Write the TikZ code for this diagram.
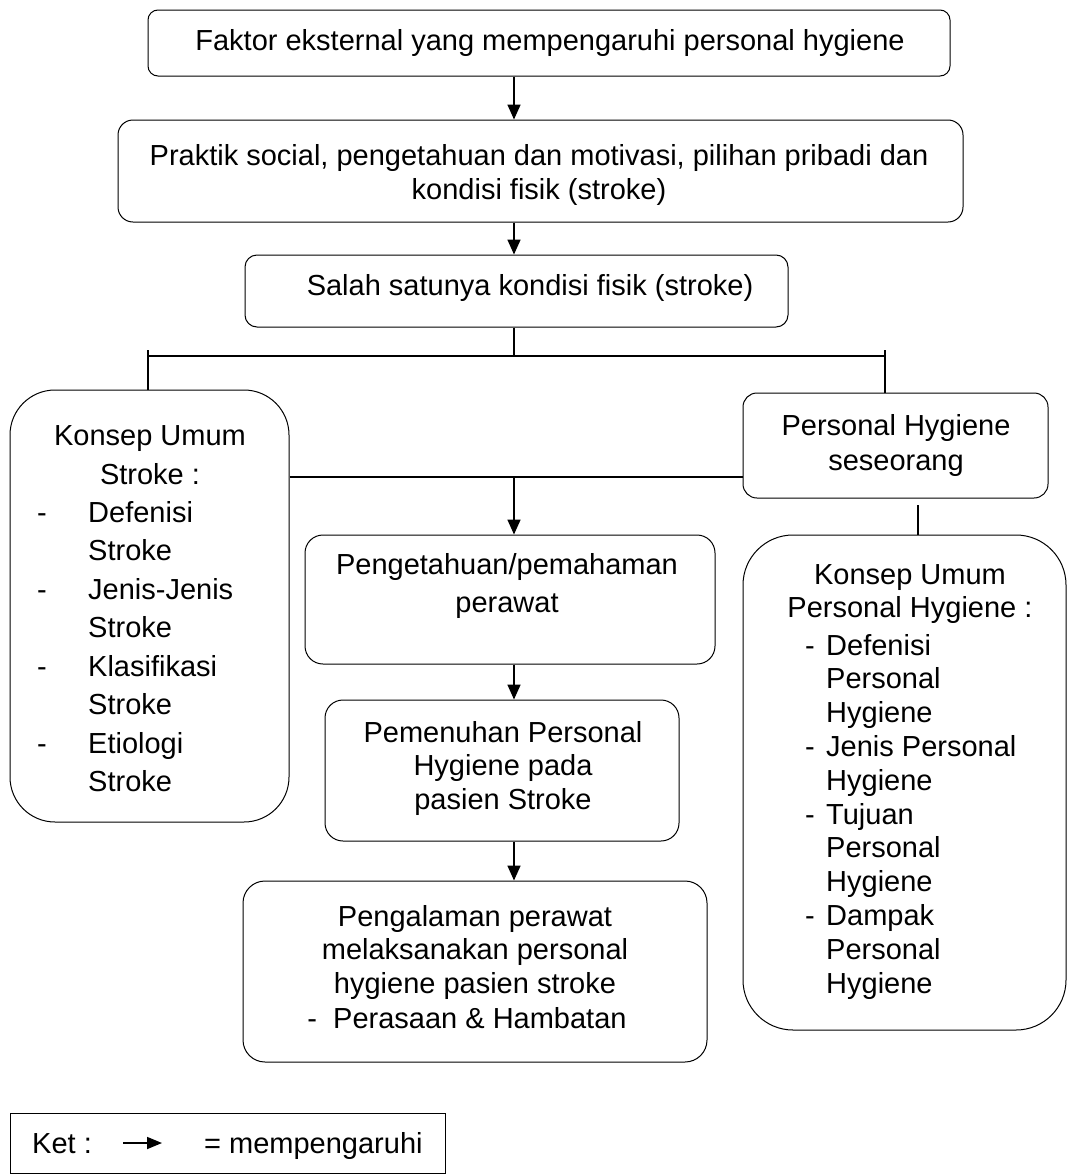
\documentclass[tikz,border=0pt]{standalone}
\usepackage{fontspec}
\setmainfont{Liberation Sans}
\usetikzlibrary{arrows.meta}
\begin{document}
\begin{tikzpicture}[x=1pt,y=-1pt,
  box/.style={draw=black, line width=1pt, rounded corners=#1, inner sep=0pt},
  box/.default=12,
  txt/.style={inner sep=0pt, align=center, font=\fontsize{29}{34}\selectfont},
  ltxt/.style={inner sep=0pt, anchor=base west, font=\fontsize{29}{34}\selectfont},
  dtxt/.style={inner sep=0pt, anchor=base, font=\fontsize{29}{34}\selectfont},
  conn/.style={line width=1.7pt},
  arr/.style={line width=1.7pt, -{Triangle[width=13pt,length=15pt]}},
]
\useasboundingbox (0,0) rectangle (1068,1175);

% boxes
\node[box=10, minimum width=802, minimum height=66] (b1) at (549,43) {};
\node[box=15, minimum width=845, minimum height=102] (b2) at (540.5,171) {};
\node[box=12, minimum width=543, minimum height=72] (b3) at (516.5,291) {};
\node[box=45, minimum width=279, minimum height=432] (lb) at (149.5,606) {};
\node[box=14, minimum width=305, minimum height=105] (pb) at (895.5,445.5) {};
\node[box=50, minimum width=323, minimum height=495] (rb) at (904.5,782.5) {};
\node[box=18, minimum width=410, minimum height=129] (m1) at (510,599.5) {};
\node[box=18, minimum width=354, minimum height=141] (m2) at (502,770.5) {};
\node[box=22, minimum width=464, minimum height=181] (m3) at (475,971.5) {};
\node[box=0, minimum width=435, minimum height=60] (lg) at (227.5,1143) {};

% texts
\node[txt] (t1) at (550,43) {Faktor eksternal yang mempengaruhi personal hygiene};
\node[txt] (t2) at (539,175) {Praktik social, pengetahuan dan motivasi, pilihan pribadi dan\\kondisi fisik (stroke)};
\node[txt] (t3) at (530,288) {Salah satunya kondisi fisik (stroke)};
\node[txt, font=\fontsize{29}{38.5}\selectfont] (lh) at (150,455) {Konsep Umum\\Stroke :};
\foreach \y/\s [count=\i] in {512/Defenisi,550/Stroke,589/Jenis-Jenis,627/Stroke,666/Klasifikasi,704/Stroke,743/Etiologi,781/Stroke}
  \node[ltxt] (li\i) at (88,\y+10) {\s};
\foreach \y [count=\i] in {512,589,666,743}
  \node[dtxt] (ld\i) at (42,\y+10) {-};
\node[txt, font=\fontsize{29}{35}\selectfont] (pt) at (896,445) {Personal Hygiene\\seseorang};
\node[txt, font=\fontsize{29}{33}\selectfont] (rh) at (910,594) {Konsep Umum\\Personal Hygiene :};
\foreach \y/\s [count=\i] in {645/Defenisi,678.8/Personal,712.6/Hygiene,746.4/Jenis Personal,780.2/Hygiene,814/Tujuan,847.8/Personal,881.6/Hygiene,915.4/Dampak,949.2/Personal,983/Hygiene}
  \node[ltxt] (ri\i) at (826,\y+10) {\s};
\foreach \y [count=\i] in {645,746.4,814,915.4}
  \node[dtxt] (rd\i) at (810,\y+10) {-};
\node[txt, font=\fontsize{29}{38}\selectfont] (mt1) at (507,586) {Pengetahuan/pemahaman\\perawat};
\node[txt, font=\fontsize{29}{33.5}\selectfont] (mt2) at (503,768) {Pemenuhan Personal\\Hygiene pada\\pasien Stroke};
\node[txt, font=\fontsize{29}{33.5}\selectfont] (mt3) at (475,952) {Pengalaman perawat\\melaksanakan personal\\hygiene pasien stroke};
\node[txt] (mt4) at (467,1018) {-\ \ Perasaan \& Hambatan};

% connectors
\coordinate (cx) at (514,0);
\coordinate (hy) at (0,356);
\coordinate (hlt) at (148,350);
\coordinate (hrt) at (885,350);
\coordinate (my) at (0,477);
\coordinate (rv) at (918,505);
\draw[arr] (b1.south -| cx) -- (b2.north -| cx);
\draw[arr] (b2.south -| cx) -- (b3.north -| cx);
\draw[conn] (b3.south -| cx) -- (cx |- hy);
\draw[conn] (hlt |- hy) -- (hrt |- hy);
\draw[conn] (hlt) -- (hlt |- lb.north);
\draw[conn] (hrt) -- (hrt |- pb.north);
\draw[conn] (lb.east |- my) -- (pb.west |- my);
\draw[arr] (cx |- my) -- (m1.north -| cx);
\draw[conn] (rv) -- (rv |- rb.north);
\draw[arr] (m1.south -| cx) -- (m2.north -| cx);
\draw[arr] (m2.south -| cx) -- (m3.north -| cx);

% legend
\node[ltxt] (k1) at (32,1153) {Ket :};
\coordinate (la1) at (123,1143);
\coordinate (la2) at (162,1143);
\draw[line width=1.7pt, -{Triangle[width=12pt,length=15pt]}] (la1) -- (la2);
\node[ltxt] (k2) at (204,1153) {= mempengaruhi};
\end{tikzpicture}
\end{document}
